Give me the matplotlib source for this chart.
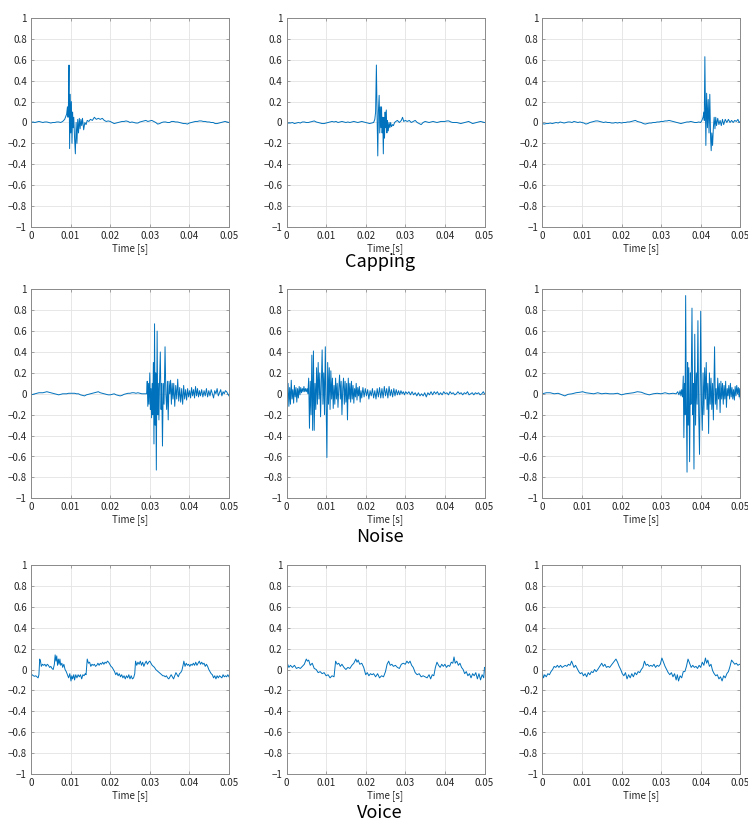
import numpy as np
import matplotlib.pyplot as plt

# waveforms, (time [ms], amplitude)
capping_1 = [(0, 0.0), (0.5, 0.005), (1, 0.0), (1.5, 0.005), (2, 0.01), (2.5, 0.005), (3, 0.0), (3.5, 0.005),
             (4, 0.005), (4.5, 0.0), (5, -0.005), (5.5, 0.0), (6, 0.0), (6.5, 0.005), (7, 0.005), (7.5, 0.0),
             (8, 0.01), (8.5, 0.03), (9.0, 0.08), (9.2, 0.15), (9.35, 0.05), (9.45, 0.17), (9.6, 0.55),
             (9.75, -0.25), (9.9, 0.27), (10.05, -0.1), (10.2, 0.2), (10.35, -0.2), (10.5, 0.1), (10.65, -0.05),
             (10.8, 0.05), (11.0, -0.15), (11.2, -0.3), (11.4, 0.0), (11.6, -0.2), (11.8, 0.03), (12.0, -0.1),
             (12.2, 0.04), (12.4, -0.06), (12.6, 0.03), (12.8, -0.03), (13.0, 0.04), (13.3, -0.07), (13.6, 0.0),
             (13.9, -0.02), (14.2, 0.02), (14.6, 0.01), (15.0, 0.03), (15.5, 0.02), (16.0, 0.05), (16.5, 0.03),
             (17.0, 0.04), (17.5, 0.03), (18.0, 0.04), (18.5, 0.02), (19.0, 0.01), (19.5, 0.015), (20.0, 0.01),
             (20.5, 0.0), (21.0, -0.01), (21.5, -0.005), (22.0, 0.0), (22.5, 0.005), (23.0, 0.01), (23.5, 0.01),
             (24.0, 0.015), (24.5, 0.01), (25.0, 0.0), (25.5, 0.005), (26.0, 0.0), (26.5, -0.005), (27.0, -0.005),
             (27.5, 0.005), (28.0, 0.01), (28.5, 0.015), (29.0, 0.02), (29.5, 0.01), (30.0, 0.015), (30.5, 0.02),
             (31.0, 0.01), (31.5, 0.0), (32.0, -0.015), (32.5, -0.01), (33.0, 0.0), (33.5, 0.005), (34.0, 0.005),
             (34.5, 0.0), (35.0, 0.0), (35.5, 0.01), (36.0, 0.01), (36.5, 0.005), (37.0, 0.005), (37.5, 0.0),
             (38.0, -0.005), (38.5, -0.01), (39.0, -0.01), (39.5, -0.015), (40.0, -0.005), (40.5, 0.0),
             (41.0, 0.005), (41.5, 0.01), (42.0, 0.01), (42.5, 0.015), (43.0, 0.015), (43.5, 0.01), (44.0, 0.01),
             (44.5, 0.005), (45.0, 0.005), (45.5, 0.0), (46.0, 0.0), (46.5, -0.01), (47.0, -0.01), (47.5, -0.005),
             (48.0, 0.0), (48.5, 0.005), (49.0, 0.01), (49.5, 0.005), (50.0, 0.0)]

capping_2 = [(0, -0.01), (0.5, -0.005), (1, -0.005), (1.5, 0.0), (2, -0.01), (2.5, -0.005), (3, 0.0), (3.5, -0.005),
             (4, 0.005), (4.5, 0.005), (5, 0.0), (5.5, 0.0), (6, 0.005), (6.5, 0.01), (7, 0.015), (7.5, 0.005),
             (8, 0.0), (8.5, -0.005), (9, -0.01), (9.5, -0.01), (10, -0.005), (10.5, 0.0), (11, 0.005), (11.5, 0.01),
             (12, 0.005), (12.5, 0.01), (13, 0.0), (13.5, 0.005), (14, 0.01), (14.5, 0.005), (15, 0.0), (15.5, 0.005),
             (16, 0.0), (16.5, 0.005), (17, 0.01), (17.5, 0.005), (18, 0.0), (18.5, 0.005), (19, 0.01), (19.5, 0.005),
             (20, 0.0), (20.5, -0.005), (21, -0.01), (21.5, -0.005), (22.0, 0.0), (22.3, 0.03), (22.5, 0.1),
             (22.7, 0.55), (22.9, 0.0), (23.05, -0.32), (23.2, 0.1), (23.4, 0.26), (23.55, -0.1), (23.7, 0.15),
             (23.85, -0.05), (24.0, 0.15), (24.15, -0.1), (24.3, 0.05), (24.45, -0.3), (24.6, 0.05), (24.75, -0.15),
             (24.9, 0.1), (25.05, -0.05), (25.2, 0.12), (25.35, -0.1), (25.5, 0.02), (25.7, -0.08), (25.9, 0.0),
             (26.1, -0.05), (26.3, 0.0), (26.5, -0.04), (26.8, -0.02), (27.0, -0.03), (27.3, 0.0), (27.6, 0.01),
             (28.0, 0.02), (28.5, 0.0), (29.0, 0.02), (29.3, 0.05), (29.6, 0.01), (30.0, 0.02), (30.5, 0.01),
             (31.0, 0.02), (31.5, 0.0), (32.0, 0.01), (32.5, 0.02), (33.0, 0.0), (33.5, -0.01), (34.0, -0.02),
             (34.5, 0.0), (35.0, 0.01), (35.5, 0.005), (36.0, 0.0), (36.5, 0.005), (37.0, 0.01), (37.5, 0.005),
             (38.0, 0.0), (38.5, 0.005), (39.0, 0.01), (39.5, 0.01), (40.0, 0.01), (40.5, 0.015), (41.0, 0.015),
             (41.5, 0.005), (42.0, 0.0), (42.5, 0.0), (43.0, 0.0), (43.5, -0.005), (44.0, -0.01), (44.5, -0.005),
             (45.0, 0.0), (45.5, 0.005), (46.0, 0.01), (46.5, 0.0), (47.0, -0.01), (47.5, -0.005), (48.0, 0.0),
             (48.5, 0.005), (49.0, 0.01), (49.5, 0.005), (50.0, 0.0)]

capping_3 = [(0, -0.01), (0.5, -0.015), (1, -0.01), (1.5, -0.01), (2, -0.005), (2.5, -0.01), (3, -0.005), (3.5, 0.0),
             (4, -0.005), (4.5, 0.005), (5, 0.0), (5.5, -0.005), (6, 0.0), (6.5, 0.005), (7, 0.005), (7.5, 0.0),
             (8, 0.01), (8.5, 0.005), (9, 0.0), (9.5, 0.005), (10, 0.0), (10.5, -0.005), (11, -0.015), (11.5, -0.01),
             (12, 0.0), (12.5, 0.005), (13, 0.01), (13.5, 0.015), (14, 0.015), (14.5, 0.01), (15, 0.005), (15.5, 0.0),
             (16, 0.005), (16.5, 0.0), (17, 0.0), (17.5, -0.005), (18, -0.005), (18.5, 0.0), (19, -0.005), (19.5, 0.0),
             (20, -0.005), (20.5, 0.0), (21, 0.0), (21.5, 0.005), (22, 0.005), (22.5, 0.01), (23, 0.015), (23.5, 0.02),
             (24, 0.01), (24.5, 0.005), (25, 0.0), (25.5, -0.01), (26, -0.015), (26.5, -0.01), (27, -0.005),
             (27.5, -0.005), (28, 0.0), (28.5, 0.0), (29, 0.005), (29.5, 0.005), (30, 0.01), (30.5, 0.01),
             (31, 0.015), (31.5, 0.015), (32, 0.02), (32.5, 0.015), (33, 0.01), (33.5, 0.005), (34, 0.0),
             (34.5, -0.005), (35, -0.01), (35.5, -0.005), (36, 0.0), (36.5, 0.005), (37, 0.005), (37.5, 0.01),
             (38, 0.005), (38.5, 0.0), (39, 0.0), (39.5, 0.005), (40.0, 0.0), (40.3, 0.02), (40.6, 0.05), (40.8, 0.1),
             (40.9, 0.02), (41.05, 0.63), (41.3, -0.22), (41.5, 0.28), (41.7, -0.05), (41.9, 0.22), (42.1, -0.1),
             (42.3, 0.27), (42.5, -0.15), (42.65, -0.27), (42.8, -0.1), (43.0, -0.22), (43.2, -0.05), (43.4, 0.05),
             (43.6, -0.06), (43.8, 0.05), (44.0, -0.03), (44.3, 0.04), (44.6, -0.02), (44.9, 0.02), (45.2, -0.03),
             (45.5, 0.03), (45.8, -0.02), (46.2, 0.03), (46.6, 0.0), (47.0, 0.03), (47.4, 0.0), (47.8, 0.02),
             (48.2, 0.0), (48.6, 0.02), (49.0, 0.01), (49.4, 0.03), (49.7, 0.0), (50.0, 0.01)]

noise_1 = [(0, -0.01), (0.5, -0.005), (1, 0.0), (1.5, 0.005), (2, 0.01), (2.5, 0.01), (3, 0.01), (3.5, 0.015),
           (4, 0.02), (4.5, 0.015), (5, 0.01), (5.5, 0.005), (6, 0.0), (6.5, -0.005), (7, -0.01), (7.5, -0.005),
           (8, 0.0), (8.5, 0.0), (9, 0.0), (9.5, 0.005), (10, 0.005), (10.5, 0.005), (11, 0.005), (11.5, 0.0),
           (12, 0.0), (12.5, -0.01), (13, -0.015), (13.5, -0.02), (14, -0.01), (14.5, -0.005), (15, 0.0),
           (15.5, 0.005), (16, 0.01), (16.5, 0.015), (17, 0.02), (17.5, 0.01), (18, 0.005), (18.5, 0.0),
           (19, -0.005), (19.5, -0.01), (20, -0.01), (20.5, -0.005), (21, 0.0), (21.5, -0.01), (22, -0.015),
           (22.5, -0.02), (23, -0.015), (23.5, -0.005), (24, 0.0), (24.5, 0.005), (25, 0.005), (25.5, 0.01),
           (26, 0.01), (26.5, 0.005), (27, 0.01), (27.5, 0.005), (28, 0.0), (28.5, 0.0), (29.0, 0.0),
           (29.2, 0.0), (29.35, 0.12), (29.5, -0.12), (29.65, 0.1), (29.8, -0.1), (30.0, 0.2), (30.15, -0.15),
           (30.3, 0.05), (30.45, -0.23), (30.6, 0.1), (30.75, -0.2), (30.9, 0.3), (31.05, -0.48), (31.2, 0.67),
           (31.35, -0.3), (31.5, 0.2), (31.65, -0.73), (31.85, 0.6), (32.0, -0.2), (32.15, 0.1), (32.3, -0.25),
           (32.45, 0.1), (32.65, 0.4), (32.85, -0.15), (33.0, 0.1), (33.2, -0.5), (33.4, 0.1), (33.6, -0.1),
           (33.85, 0.45), (34.05, 0.0), (34.25, -0.15), (34.45, 0.12), (34.65, -0.25), (34.85, 0.12), (35.05, 0.0),
           (35.25, 0.13), (35.45, -0.1), (35.65, 0.1), (35.85, -0.05), (36.05, 0.1), (36.3, -0.12), (36.55, 0.08),
           (36.8, -0.05), (37.05, 0.14), (37.3, -0.07), (37.55, 0.06), (37.8, -0.08), (38.05, 0.05), (38.3, -0.1),
           (38.55, 0.08), (38.8, -0.05), (39.05, 0.04), (39.3, -0.06), (39.55, 0.05), (39.8, -0.03), (40.05, 0.03),
           (40.3, -0.04), (40.55, 0.06), (40.8, -0.02), (41.05, 0.04), (41.3, -0.04), (41.55, 0.07), (41.8, -0.02),
           (42.05, 0.05), (42.3, -0.03), (42.55, 0.03), (42.8, -0.02), (43.1, 0.04), (43.4, -0.03), (43.7, 0.03),
           (44.0, -0.02), (44.3, 0.05), (44.6, -0.03), (44.9, 0.03), (45.2, -0.02), (45.5, 0.04), (45.8, 0.0),
           (46.1, -0.04), (46.4, 0.03), (46.7, 0.0), (47.0, 0.05), (47.3, -0.02), (47.6, 0.01), (47.9, 0.04),
           (48.2, -0.02), (48.5, 0.02), (48.8, 0.0), (49.1, 0.03), (49.4, 0.02), (49.7, 0.0), (50.0, -0.02)]

noise_2 = [(0.0, 0.04), (0.2, -0.05), (0.4, 0.1), (0.6, -0.12), (0.8, 0.06), (1.0, -0.1), (1.2, 0.13), (1.4, -0.05),
           (1.6, 0.04), (1.8, -0.09), (2.0, 0.08), (2.2, -0.03), (2.4, 0.06), (2.6, -0.08), (2.8, 0.05), (3.0, -0.04),
           (3.2, 0.07), (3.4, -0.01), (3.6, 0.06), (3.8, 0.01), (4.0, 0.05), (4.2, 0.02), (4.4, 0.07), (4.6, 0.02),
           (4.8, 0.05), (5.0, 0.02), (5.2, 0.05), (5.4, 0.0), (5.6, 0.15), (5.8, -0.33), (6.0, 0.12), (6.2, -0.2),
           (6.4, 0.37), (6.6, -0.35), (6.8, 0.41), (7.0, -0.35), (7.2, 0.1), (7.4, -0.15), (7.6, 0.25), (7.8, -0.1),
           (8.0, 0.3), (8.2, -0.05), (8.4, 0.2), (8.6, -0.22), (8.8, 0.1), (9.0, 0.42), (9.2, -0.1), (9.4, 0.2),
           (9.6, -0.2), (9.8, 0.45), (10.0, -0.1), (10.2, -0.61), (10.4, 0.3), (10.6, -0.1), (10.8, 0.25),
           (11.0, -0.15), (11.2, 0.22), (11.4, -0.05), (11.6, 0.15), (11.8, -0.14), (12.0, 0.08), (12.2, -0.1),
           (12.4, 0.15), (12.6, -0.05), (12.8, 0.1), (13.0, -0.13), (13.2, 0.05), (13.4, 0.18), (13.6, -0.05),
           (13.8, 0.12), (14.0, -0.2), (14.2, 0.05), (14.4, 0.15), (14.6, -0.1), (14.8, 0.12), (15.0, -0.08),
           (15.2, 0.1), (15.4, -0.25), (15.6, 0.15), (15.8, -0.05), (16.0, 0.1), (16.2, -0.08), (16.4, 0.12),
           (16.6, -0.05), (16.8, 0.08), (17.0, -0.09), (17.2, 0.05), (17.4, -0.03), (17.6, 0.1), (17.8, -0.06),
           (18.0, 0.06), (18.2, -0.02), (18.4, 0.07), (18.6, -0.08), (18.8, 0.03), (19.0, -0.04), (19.3, 0.06),
           (19.6, -0.03), (19.9, 0.05), (20.2, -0.02), (20.5, 0.04), (20.8, -0.05), (21.1, 0.03), (21.4, -0.02),
           (21.7, 0.05), (22.0, -0.04), (22.3, 0.03), (22.6, -0.05), (22.9, 0.05), (23.2, -0.03), (23.5, 0.06),
           (23.8, -0.04), (24.1, 0.05), (24.4, -0.04), (24.7, 0.07), (25.0, -0.02), (25.3, 0.05), (25.6, -0.04),
           (25.9, 0.07), (26.2, -0.02), (26.5, 0.04), (26.8, -0.03), (27.1, 0.05), (27.4, -0.02), (27.7, 0.04),
           (28.0, -0.01), (28.3, 0.03), (28.6, -0.01), (28.9, 0.03), (29.2, 0.0), (29.5, 0.02), (29.8, -0.01),
           (30.1, 0.02), (30.5, 0.0), (30.9, 0.02), (31.3, -0.01), (31.7, 0.02), (32.1, -0.01), (32.5, 0.01),
           (32.9, -0.02), (33.3, 0.01), (33.7, -0.02), (34.1, 0.0), (34.5, -0.02), (34.9, 0.01), (35.3, -0.03),
           (35.7, 0.01), (36.1, -0.01), (36.5, 0.02), (36.9, -0.01), (37.3, 0.02), (37.7, 0.0), (38.1, 0.02),
           (38.5, -0.01), (38.9, 0.01), (39.3, -0.01), (39.7, 0.02), (40.1, 0.0), (40.5, 0.01), (40.9, -0.01),
           (41.3, 0.02), (41.7, 0.0), (42.1, 0.01), (42.5, -0.01), (42.9, 0.0), (43.3, 0.02), (43.7, 0.0),
           (44.1, 0.01), (44.5, -0.01), (44.9, 0.01), (45.3, 0.0), (45.7, 0.02), (46.1, -0.01), (46.5, 0.0),
           (46.9, 0.01), (47.3, -0.01), (47.7, 0.01), (48.1, 0.0), (48.5, 0.01), (48.9, -0.01), (49.3, 0.0),
           (49.7, 0.02), (50.0, 0.0)]

noise_3 = [(0, 0.0), (1, 0.01), (2, 0.01), (3, 0.0), (4, 0.005), (5, -0.01), (5.7, -0.02), (6.5, -0.005), (7.5, 0.0),
           (8.5, 0.01), (9.5, 0.015), (10.2, 0.02), (11, 0.01), (12, 0.005), (13, 0.0), (14, 0.01), (15, 0.0),
           (16, 0.005), (17, 0.0), (18, 0.0), (19, 0.005), (20, -0.01), (21, 0.0), (22, 0.005), (23, 0.01),
           (24, 0.02), (25, 0.015), (26, 0.0), (27, -0.01), (28, 0.0), (29, 0.005), (30, 0.0), (31, 0.01), (32, 0.0),
           (33, 0.005), (33.8, 0.0), (34.2, 0.02), (34.5, -0.01), (34.8, 0.03), (35.0, -0.02), (35.2, 0.04),
           (35.4, -0.03), (35.6, 0.17), (35.75, -0.42), (35.9, 0.1), (36.05, -0.2), (36.2, 0.94), (36.35, 0.0),
           (36.55, -0.75), (36.7, 0.3), (36.85, -0.3), (37.0, 0.25), (37.2, -0.65), (37.4, 0.2), (37.55, -0.1),
           (37.8, 0.82), (38.0, -0.2), (38.1, 0.1), (38.3, -0.72), (38.5, 0.57), (38.7, -0.3), (38.9, 0.2),
           (39.1, -0.1), (39.3, 0.7), (39.5, -0.2), (39.7, -0.58), (39.85, 0.1), (40.0, 0.79), (40.2, -0.1),
           (40.4, -0.35), (40.6, 0.2), (40.8, -0.2), (41.0, 0.25), (41.2, -0.05), (41.4, 0.3), (41.6, -0.15),
           (41.8, 0.1), (42.0, -0.38), (42.2, 0.2), (42.4, -0.1), (42.6, 0.15), (42.8, -0.15), (43.0, 0.1),
           (43.2, -0.25), (43.5, 0.45), (43.7, -0.1), (43.9, 0.05), (44.1, -0.15), (44.3, 0.15), (44.5, -0.05),
           (44.7, 0.1), (44.9, -0.18), (45.1, 0.12), (45.3, -0.05), (45.5, 0.1), (45.7, -0.1), (45.9, 0.08),
           (46.1, -0.05), (46.3, 0.12), (46.5, -0.13), (46.7, 0.05), (46.9, -0.02), (47.1, 0.08), (47.3, -0.05),
           (47.5, 0.1), (47.7, -0.03), (47.9, 0.06), (48.1, -0.05), (48.3, 0.04), (48.5, -0.06), (48.7, 0.07),
           (48.9, -0.02), (49.1, 0.08), (49.3, 0.0), (49.5, 0.06), (49.7, -0.03), (49.85, 0.05), (50.0, -0.05)]

voice_1 = [(0, -0.06), (0.3, -0.05), (0.6, -0.06), (0.9, -0.065), (1.2, -0.06), (1.5, -0.07), (1.8, -0.08),
           (2.0, -0.05), (2.2, 0.1), (2.4, 0.08), (2.6, 0.03), (2.9, 0.05), (3.2, 0.04), (3.5, 0.05), (3.8, 0.03),
           (4.1, 0.05), (4.4, 0.04), (4.7, 0.02), (5.0, 0.03), (5.3, 0.01), (5.6, 0.0), (5.9, 0.05), (6.1, 0.14),
           (6.3, 0.08), (6.5, 0.13), (6.7, 0.04), (6.9, 0.1), (7.1, 0.05), (7.3, 0.1), (7.5, 0.04), (7.8, 0.06),
           (8.0, 0.02), (8.3, 0.05), (8.6, 0.0), (8.9, -0.02), (9.2, -0.05), (9.5, -0.08), (9.8, -0.04),
           (10.1, -0.11), (10.3, -0.06), (10.5, -0.09), (10.8, -0.05), (11.0, -0.1), (11.3, -0.05), (11.6, -0.08),
           (11.9, -0.05), (12.2, -0.07), (12.5, -0.05), (12.8, -0.09), (13.1, -0.05), (13.4, -0.06), (13.7, -0.04),
           (13.9, -0.05), (14.2, 0.1), (14.5, 0.06), (14.8, 0.07), (15.1, 0.03), (15.4, 0.05), (15.7, 0.04),
           (16.0, 0.05), (16.3, 0.03), (16.6, 0.04), (16.9, 0.06), (17.2, 0.04), (17.5, 0.06), (17.8, 0.05),
           (18.1, 0.07), (18.4, 0.05), (18.7, 0.07), (19.0, 0.06), (19.3, 0.08), (19.6, 0.07), (19.9, 0.05),
           (20.2, 0.03), (20.5, 0.02), (20.8, 0.0), (21.1, -0.02), (21.4, -0.05), (21.7, -0.03), (22.0, -0.06),
           (22.3, -0.04), (22.6, -0.07), (22.9, -0.05), (23.2, -0.08), (23.5, -0.06), (23.8, -0.09), (24.1, -0.06),
           (24.4, -0.08), (24.7, -0.05), (25.0, -0.09), (25.3, -0.06), (25.6, -0.09), (25.9, -0.08), (26.2, -0.04),
           (26.4, 0.08), (26.7, 0.04), (27.0, 0.07), (27.3, 0.05), (27.6, 0.08), (27.9, 0.04), (28.2, 0.07),
           (28.5, 0.03), (28.8, 0.06), (29.1, 0.08), (29.4, 0.05), (29.7, 0.07), (30.0, 0.08), (30.3, 0.06),
           (30.6, 0.04), (30.9, 0.03), (31.2, 0.02), (31.5, 0.0), (31.8, -0.01), (32.1, -0.02), (32.4, -0.03),
           (32.7, -0.04), (33.0, -0.05), (33.3, -0.06), (33.6, -0.06), (33.9, -0.07), (34.2, -0.06), (34.5, -0.08),
           (34.8, -0.09), (35.1, -0.07), (35.4, -0.05), (35.7, -0.07), (36.0, -0.09), (36.3, -0.06), (36.6, -0.03),
           (36.9, -0.05), (37.2, -0.07), (37.5, -0.04), (37.8, -0.03), (38.1, -0.01), (38.4, 0.04), (38.6, 0.08),
           (38.9, 0.03), (39.2, 0.06), (39.5, 0.04), (39.8, 0.05), (40.1, 0.03), (40.4, 0.05), (40.7, 0.04),
           (41.0, 0.06), (41.3, 0.04), (41.6, 0.07), (41.9, 0.04), (42.2, 0.06), (42.5, 0.08), (42.8, 0.05),
           (43.1, 0.07), (43.4, 0.05), (43.7, 0.06), (44.0, 0.03), (44.3, 0.05), (44.6, 0.03), (44.9, 0.0),
           (45.2, -0.02), (45.5, -0.04), (45.8, -0.05), (46.1, -0.08), (46.4, -0.06), (46.7, -0.09), (47.0, -0.06),
           (47.3, -0.08), (47.6, -0.06), (47.9, -0.07), (48.2, -0.08), (48.5, -0.05), (48.8, -0.07), (49.1, -0.06),
           (49.4, -0.07), (49.7, -0.05), (50.0, -0.07)]

voice_2 = [(0, 0.07), (0.3, 0.05), (0.6, 0.02), (1.0, 0.04), (1.5, 0.02), (2.0, 0.04), (2.5, 0.01), (3.0, 0.02),
           (3.5, 0.01), (4.0, 0.03), (4.5, 0.05), (5.0, 0.1), (5.3, 0.08), (5.6, 0.09), (6.0, 0.04), (6.5, 0.06),
           (7.0, 0.01), (7.5, 0.0), (8.0, -0.03), (8.5, -0.02), (9.0, -0.04), (9.5, -0.03), (10.0, -0.06),
           (10.5, -0.05), (11.0, -0.08), (11.5, -0.06), (12.0, -0.07), (12.4, 0.08), (12.8, 0.05), (13.2, 0.06),
           (13.6, 0.03), (14.0, 0.05), (14.5, 0.02), (15.0, 0.0), (15.5, 0.02), (16.0, 0.01), (16.5, 0.04),
           (17.0, 0.06), (17.5, 0.1), (17.8, 0.07), (18.1, 0.09), (18.5, 0.05), (19.0, 0.06), (19.5, 0.02),
           (20.0, -0.05), (20.4, -0.03), (20.8, -0.06), (21.2, -0.04), (21.6, -0.05), (22.0, -0.04), (22.5, -0.07),
           (23.0, -0.04), (23.5, -0.08), (24.0, -0.06), (24.5, -0.07), (25.0, -0.02), (25.4, 0.05), (25.8, 0.08),
           (26.2, 0.04), (26.6, 0.05), (27.0, 0.03), (27.5, 0.04), (28.0, 0.02), (28.5, 0.01), (29.0, 0.05),
           (29.5, 0.06), (30.0, 0.05), (30.4, 0.08), (30.8, 0.06), (31.2, 0.08), (31.6, 0.04), (32.0, 0.02),
           (32.5, -0.03), (33.0, -0.05), (33.5, -0.04), (34.0, -0.07), (34.5, -0.06), (35.0, -0.07), (35.5, -0.08),
           (36.0, -0.05), (36.4, -0.09), (36.8, -0.05), (37.2, -0.06), (37.6, 0.02), (38.0, 0.07), (38.4, 0.04),
           (38.8, 0.02), (39.2, 0.05), (39.6, 0.03), (40.0, 0.05), (40.4, 0.02), (40.8, 0.04), (41.2, 0.03),
           (41.6, 0.07), (42.0, 0.06), (42.3, 0.12), (42.6, 0.06), (43.0, 0.08), (43.4, 0.04), (43.8, 0.06),
           (44.2, 0.02), (44.6, 0.0), (45.0, -0.04), (45.4, -0.02), (45.8, -0.06), (46.2, -0.04), (46.6, -0.08),
           (47.0, -0.04), (47.4, -0.06), (47.8, -0.03), (48.2, -0.09), (48.6, -0.04), (49.0, -0.1), (49.4, -0.05),
           (49.8, -0.08), (50.0, 0.02)]

voice_3 = [(0, -0.03), (0.3, -0.08), (0.6, -0.05), (1.0, -0.07), (1.4, -0.04), (1.8, -0.05), (2.2, -0.02), (2.6, 0.0),
           (3.0, 0.03), (3.4, 0.02), (3.8, 0.04), (4.2, 0.02), (4.6, 0.04), (5.0, 0.02), (5.4, 0.03), (5.8, 0.04),
           (6.2, 0.03), (6.6, 0.05), (7.0, 0.04), (7.4, 0.08), (7.7, 0.05), (8.0, 0.02), (8.4, 0.04), (8.8, 0.01),
           (9.2, -0.02), (9.6, -0.04), (10.0, -0.03), (10.4, -0.06), (10.8, -0.04), (11.2, -0.07), (11.6, -0.03),
           (12.0, -0.05), (12.4, -0.02), (12.8, -0.03), (13.2, 0.0), (13.6, -0.02), (14.0, 0.0), (14.5, 0.03),
           (15.0, 0.06), (15.4, 0.03), (15.8, 0.05), (16.2, 0.02), (16.6, 0.03), (17.0, 0.02), (17.4, 0.04),
           (17.8, 0.06), (18.2, 0.08), (18.6, 0.1), (19.0, 0.07), (19.4, 0.03), (19.8, 0.0), (20.2, -0.04),
           (20.6, -0.06), (21.0, -0.03), (21.4, -0.09), (21.8, -0.05), (22.2, -0.08), (22.6, -0.04), (23.0, -0.07),
           (23.4, -0.03), (23.8, -0.05), (24.2, -0.02), (24.6, -0.03), (25.0, 0.0), (25.4, 0.02), (25.8, 0.08),
           (26.2, 0.04), (26.6, 0.05), (27.0, 0.03), (27.4, 0.04), (27.8, 0.03), (28.2, 0.05), (28.6, 0.02),
           (29.0, 0.04), (29.4, 0.03), (29.8, 0.05), (30.2, 0.11), (30.6, 0.07), (31.0, 0.03), (31.4, 0.0),
           (31.8, -0.03), (32.2, -0.05), (32.6, -0.03), (33.0, -0.07), (33.4, -0.04), (33.8, -0.1), (34.1, -0.05),
           (34.4, -0.11), (34.8, -0.06), (35.2, -0.08), (35.6, -0.02), (36.0, -0.02), (36.4, 0.03), (36.8, 0.1),
           (37.2, 0.06), (37.6, 0.02), (38.0, 0.04), (38.4, 0.02), (38.8, 0.03), (39.2, 0.01), (39.6, 0.04),
           (40.0, 0.02), (40.4, 0.07), (40.8, 0.04), (41.2, 0.11), (41.5, 0.06), (41.8, 0.09), (42.2, 0.03),
           (42.6, 0.05), (43.0, -0.01), (43.4, -0.04), (43.8, -0.06), (44.2, -0.05), (44.6, -0.09), (45.0, -0.07),
           (45.4, -0.11), (45.8, -0.06), (46.2, -0.08), (46.6, -0.04), (47.0, -0.02), (47.4, 0.03), (47.8, 0.09),
           (48.2, 0.07), (48.6, 0.05), (49.0, 0.06), (49.4, 0.04), (49.8, 0.05), (50.0, 0.05)]

groups = ["Capping", "Noise", "Voice"]
waves = [[capping_1, capping_2, capping_3],
         [noise_1, noise_2, noise_3],
         [voice_1, voice_2, voice_3]]

x_ticks = [0, 0.01, 0.02, 0.03, 0.04, 0.05]
x_labels = ["0", "0.01", "0.02", "0.03", "0.04", "0.05"]
y_ticks = [-1, -0.8, -0.6, -0.4, -0.2, 0, 0.2, 0.4, 0.6, 0.8, 1]
y_labels = ["\u22121", "\u22120.8", "\u22120.6", "\u22120.4", "\u22120.2", "0", "0.2", "0.4", "0.6", "0.8", "1"]

W, H = 748, 821
col_left = [31, 286.5, 542.3]   # pixel positions of the panels
row_bottom = [227, 498.3, 774]
title_y = [262, 537, 813]
ax_w, ax_h = 198, 209

plt.rcParams['font.family'] = ['Noto Sans CJK JP', 'DejaVu Sans']
fig = plt.figure(figsize=(W / 100, H / 100), dpi=100)

for r in range(3):
    for c in range(3):
        ax = fig.add_axes([col_left[c] / W, 1 - row_bottom[r] / H, ax_w / W, ax_h / H])
        t, y = np.array(waves[r][c]).T
        ax.plot(t / 1000, y, color='#0072BD', lw=0.7)
        ax.set_xlim(0, 0.05)
        ax.set_ylim(-1, 1)
        ax.set_xticks(x_ticks)
        ax.set_xticklabels(x_labels)
        ax.set_yticks(y_ticks)
        ax.set_yticklabels(y_labels)
        ax.grid(True, color='#e3e3e3', lw=0.6)
        ax.set_axisbelow(True)
        ax.tick_params(direction='in', length=2.5, width=0.5, color='#808080',
                       labelsize=7, labelcolor='#262626', top=True, right=True, pad=3)
        for s in ax.spines.values():
            s.set_color('#8a8a8a')
            s.set_linewidth(0.7)
        ax.set_xlabel('Time [s]', fontsize=7, color='#262626', labelpad=1.5)
    fig.text(380 / W, 1 - title_y[r] / H, groups[r], ha='center', va='center', fontsize=13)

fig.savefig('out.png', dpi=100)
